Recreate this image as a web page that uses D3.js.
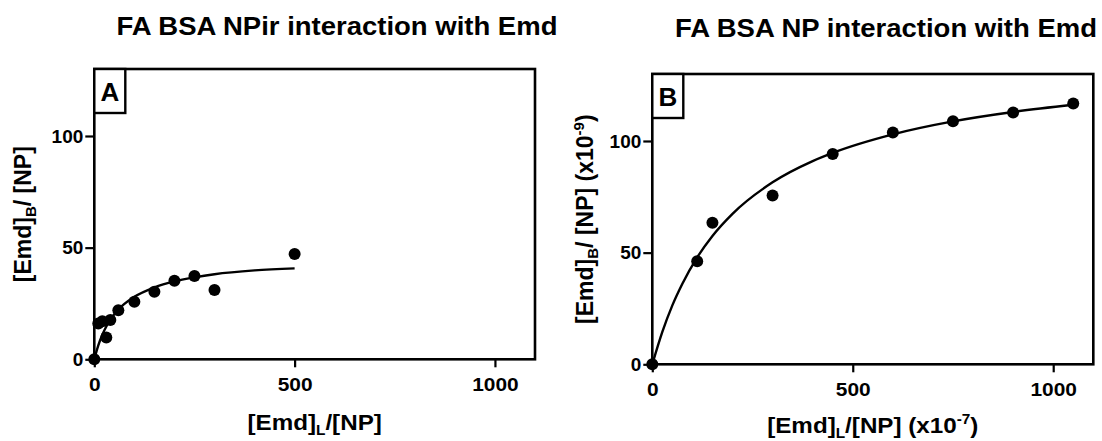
<!DOCTYPE html>
<html>
<head>
<meta charset="utf-8">
<script src="https://cdn.jsdelivr.net/npm/d3@7"></script>
<style>
  body { margin: 0; background: #fff; }
  text { font-family: "Liberation Sans", Arial, sans-serif; font-weight: bold; fill: #000; }
</style>
</head>
<body>
<svg id="chart" width="1102" height="441"></svg>
<script>
// Panel A: FA BSA NPir
const npirX = [0, 10, 20, 30, 40, 60, 100, 150, 200, 250, 300, 500];
const npirY = [0, 16, 17, 9.8, 17.6, 22, 25.8, 30.3, 35.2, 37.3, 31, 47.2];
const npirFitX = [0, 10, 20, 30, 40, 60, 100, 150, 200, 250, 300, 400, 500];
const npirFitY = [0, 6.2, 11, 14.7, 17.7, 22.3, 28, 32.2, 34.9, 36.7, 38.1, 39.8, 40.7];

// Panel B: FA BSA NP
const npX = [0, 112, 150, 300, 450, 600, 750, 900, 1050];
const npY = [0, 46.1, 63.4, 75.6, 94.2, 103.8, 108.8, 112.8, 116.8];
const npFitX = [0, 25, 50, 75, 112, 150, 200, 300, 400, 450, 600, 750, 900, 1050];
const npFitY = [0, 14.5, 26.4, 36.1, 47.9, 57.5, 67.4, 81.5, 91, 94.7, 103, 108.8, 113, 116.2];

const xTicks = [0, 500, 1000];
const yTicks = [0, 50, 100];
const xDomain = [0, 1100];
const yDomain = [0, 130];

const svg = d3.select('#chart');
const stretch = 1.1; // glyphs in the source are a bit wide

function drawPanel(p) {
  const x = d3.scaleLinear().domain(xDomain).range([0, p.width]);
  const y = d3.scaleLinear().domain(yDomain).range([p.height, 0]);

  const g = svg.append('g').attr('transform', `translate(${p.left}, ${p.top})`);

  // axes
  const xAxis = g.append('g')
    .attr('transform', `translate(0, ${p.height})`)
    .call(d3.axisBottom(x).tickValues(xTicks).tickFormat(d3.format('d')).tickSize(8).tickPadding(10));
  const yAxis = g.append('g')
    .call(d3.axisLeft(y).tickValues(yTicks).tickFormat(d3.format('d')).tickSize(9).tickPadding(2));
  [xAxis, yAxis].forEach(a => {
    a.select('.domain').remove();
    a.selectAll('.tick line').attr('stroke', '#000').attr('stroke-width', 2.2);
    a.selectAll('.tick text')
      .attr('font-size', '19px')
      .attr('font-family', '"Liberation Sans", Arial, sans-serif')
      .attr('font-weight', 'bold');
  });
  xAxis.selectAll('.tick text').attr('transform', `scale(${stretch},1)`);

  // frame
  g.append('rect')
    .attr('width', p.width)
    .attr('height', p.height)
    .attr('fill', 'none')
    .attr('stroke', '#000')
    .attr('stroke-width', 2.6);

  // fitted curve
  const line = d3.line()
    .x((d, i) => x(p.fitX[i]))
    .y(d => y(d))
    .curve(d3.curveMonotoneX);
  g.append('path')
    .datum(p.fitY)
    .attr('d', line)
    .attr('fill', 'none')
    .attr('stroke', '#000')
    .attr('stroke-width', 2.4);

  // data points
  g.selectAll('.dot')
    .data(p.ys)
    .join('circle')
    .attr('class', 'dot')
    .attr('cx', (d, i) => x(p.xs[i]))
    .attr('cy', d => y(d))
    .attr('r', 6)
    .attr('fill', '#000');

  // panel letter box
  g.append('rect')
    .attr('width', 31)
    .attr('height', 44)
    .attr('fill', '#fff')
    .attr('stroke', '#000')
    .attr('stroke-width', 2.4);
  g.append('text')
    .attr('x', 15.5)
    .attr('y', 32)
    .attr('text-anchor', 'middle')
    .attr('font-size', '26px')
    .text(p.letter);

  // title
  svg.append('text')
    .attr('transform', `translate(${p.titleX}, ${p.titleY}) scale(${stretch},1)`)
    .attr('text-anchor', 'middle')
    .attr('font-size', '25px')
    .text(p.title);

  // x label
  const xl = svg.append('text')
    .attr('transform', `translate(${p.left + p.width / 2}, ${p.xLabelY}) scale(${stretch},1)`)
    .attr('text-anchor', 'middle')
    .attr('font-size', '22px');
  xl.append('tspan').text('[Emd]');
  xl.append('tspan').attr('font-size', '14px').attr('dy', 5).text('L');
  xl.append('tspan').attr('dy', -5).text('/[NP]');
  if (p.xExp) {
    xl.append('tspan').text(' (x10');
    xl.append('tspan').attr('font-size', '14px').attr('dy', -9).text(p.xExp);
    xl.append('tspan').attr('dy', 9).text(')');
  }

  // y label
  const yl = svg.append('text')
    .attr('transform', `translate(${p.yLabelX}, ${p.top + p.height / 2}) rotate(-90)`)
    .attr('text-anchor', 'middle')
    .attr('font-size', '23px');
  yl.append('tspan').text('[Emd]');
  yl.append('tspan').attr('font-size', '15px').attr('dy', 5).text('B');
  yl.append('tspan').attr('dy', -5).text('/ [NP]');
  if (p.yExp) {
    yl.append('tspan').text(' (x10');
    yl.append('tspan').attr('font-size', '15px').attr('dy', -9).text(p.yExp);
    yl.append('tspan').attr('dy', 9).text(')');
  }
}

drawPanel({
  left: 94.3, top: 69, width: 440.7, height: 290.3,
  xs: npirX, ys: npirY, fitX: npirFitX, fitY: npirFitY,
  letter: 'A', title: 'FA BSA NPir interaction with Emd',
  titleX: 337, titleY: 35, xLabelY: 430, yLabelX: 31
});

drawPanel({
  left: 652.3, top: 74, width: 441, height: 290.3,
  xs: npX, ys: npY, fitX: npFitX, fitY: npFitY,
  letter: 'B', title: 'FA BSA NP interaction with Emd',
  titleX: 886, titleY: 37.3, xLabelY: 433, yLabelX: 593,
  xExp: '-7', yExp: '-9'
});
</script>
</body>
</html>
